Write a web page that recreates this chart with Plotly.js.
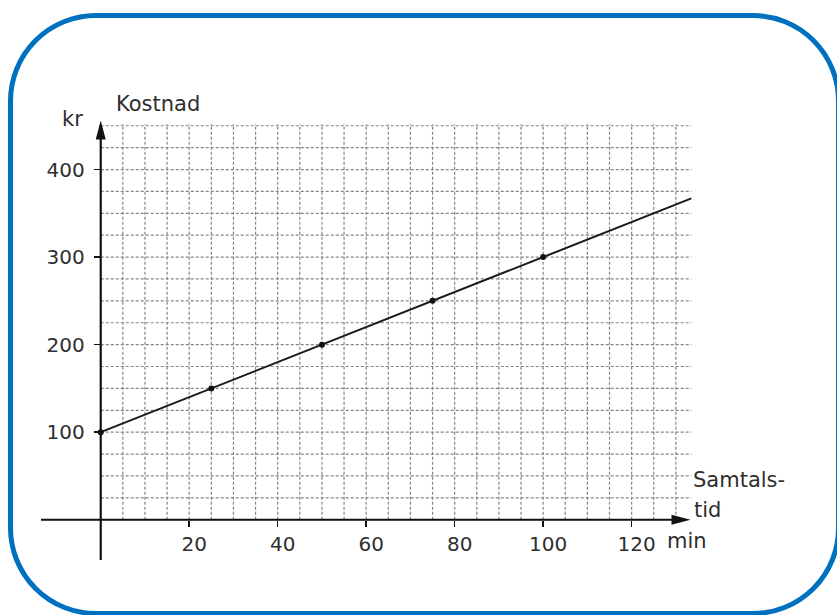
<!DOCTYPE html>
<html>
<head>
<meta charset="utf-8">
<script src="https://cdn.plot.ly/plotly-3.0.1.min.js"></script>
<style>
  html, body { margin: 0; padding: 0; background: #ffffff; }
  #wrap { position: relative; width: 837px; height: 615px; overflow: hidden; }
  #chart { position: absolute; left: 0; top: 0; width: 837px; height: 615px; }
  #frame {
    position: absolute; left: 8px; top: 13px; width: 833px; height: 603px;
    box-sizing: border-box; border: 5px solid #0070c0; border-radius: 88px;
    pointer-events: none;
  }
</style>
</head>
<body>
<div id="wrap">
  <div id="chart"></div>
  <div id="frame"></div>
</div>
<script>
// Data
const minutes = [0, 25, 50, 75, 100];          // samtalstid (min)
const costKr = [100, 150, 200, 250, 300];      // kostnad (kr)
const lineMinutes = [0, 133.5];
const lineCost = [100, 367];
const xTickVals = [20, 40, 60, 80, 100, 120];
const xTickText = ['20', '40', '60', '80', '100', '120'];
const yTickVals = [100, 200, 300, 400];
const yTickText = ['100', '200', '300', '400'];

const X_RANGE = [-13.5, 135];
const Y_RANGE = [-46, 460];
const GRID_X_STEP = 5, GRID_X_MAX = 130, GRID_X_END = 133.5;
const GRID_Y_STEP = 25, GRID_Y_MAX = 450, GRID_Y_END = 452;
const X_AXIS_END = 133.3, Y_AXIS_END = 456;

const font = 'DejaVu Sans, Verdana, sans-serif';
const textColor = '#2e2e2e';

const shapes = [];
const gridStyle = { color: '#858585', width: 1.2, dash: '3px,2px' };
for (let gx = GRID_X_STEP; gx <= GRID_X_MAX; gx += GRID_X_STEP) {
  shapes.push({ type: 'line', xref: 'x', yref: 'y', x0: gx, x1: gx, y0: 0, y1: GRID_Y_END, line: gridStyle, layer: 'below' });
}
for (let gy = GRID_Y_STEP; gy <= GRID_Y_MAX; gy += GRID_Y_STEP) {
  shapes.push({ type: 'line', xref: 'x', yref: 'y', x0: 0, x1: GRID_X_END, y0: gy, y1: gy, line: gridStyle, layer: 'below' });
}
// axes lines
shapes.push({ type: 'line', xref: 'x', yref: 'y', x0: X_RANGE[0], x1: X_AXIS_END - 1, y0: 0, y1: 0, line: { color: '#111', width: 2.2 } });
shapes.push({ type: 'line', xref: 'x', yref: 'y', x0: 0, x1: 0, y0: Y_RANGE[0], y1: Y_AXIS_END - 5, line: { color: '#111', width: 2.2 } });
// arrowheads (pixel-sized)
shapes.push({ type: 'path', xref: 'x', yref: 'y', xsizemode: 'pixel', ysizemode: 'pixel',
  xanchor: X_AXIS_END, yanchor: 0, path: 'M0,0 L-19,5 L-19,-5 Z', fillcolor: '#111', line: { width: 0 } });
shapes.push({ type: 'path', xref: 'x', yref: 'y', xsizemode: 'pixel', ysizemode: 'pixel',
  xanchor: 0, yanchor: Y_AXIS_END, path: 'M0,0 L-5,-19 L5,-19 Z', fillcolor: '#111', line: { width: 0 } });

const traces = [
  { x: lineMinutes, y: lineCost, type: 'scatter', mode: 'lines', line: { color: '#1a1a1a', width: 2 }, hoverinfo: 'skip', cliponaxis: false },
  { x: minutes, y: costKr, type: 'scatter', mode: 'markers', marker: { color: '#111', size: 6 }, hoverinfo: 'skip', cliponaxis: false }
];

const yToPaper = v => (v - Y_RANGE[0]) / (Y_RANGE[1] - Y_RANGE[0]);
const annFont = { family: font, size: 21, color: textColor };
const annotations = [
  { x: -3.6, y: yToPaper(458), xref: 'x', yref: 'paper', text: 'kr', showarrow: false, xanchor: 'right', yanchor: 'middle', font: annFont },
  { x: 2.9, y: yToPaper(475), xref: 'x', yref: 'paper', text: 'Kostnad', showarrow: false, xanchor: 'left', yanchor: 'middle', font: annFont },
  { x: 133.4, y: yToPaper(45), xref: 'x', yref: 'paper', text: 'Samtals-', showarrow: false, xanchor: 'left', yanchor: 'middle', font: annFont },
  { x: 133.6, y: yToPaper(11), xref: 'x', yref: 'paper', text: 'tid', showarrow: false, xanchor: 'left', yanchor: 'middle', font: annFont },
  { x: 132.6, y: yToPaper(-24.5), xref: 'x', yref: 'paper', text: 'min', showarrow: false, xanchor: 'center', yanchor: 'middle', font: annFont }
];

const layout = {
  width: 837, height: 615,
  margin: { l: 41, r: 837 - 41 - 657, t: 117, b: 615 - 117 - 443 },
  paper_bgcolor: 'rgba(0,0,0,0)', plot_bgcolor: 'rgba(0,0,0,0)',
  showlegend: false,
  xaxis: {
    range: X_RANGE, showgrid: false, zeroline: false, showline: false,
    anchor: 'free', position: yToPaper(0),
    tickmode: 'array', tickvals: xTickVals, ticktext: xTickText,
    ticks: 'outside', ticklen: 6, tickwidth: 1.5, tickcolor: '#111',
    ticklabelshift: 5,
    tickfont: { family: font, size: 20, color: textColor }
  },
  yaxis: {
    range: Y_RANGE, showgrid: false, zeroline: false, showline: false,
    anchor: 'free', position: (0 - X_RANGE[0]) / (X_RANGE[1] - X_RANGE[0]),
    tickmode: 'array', tickvals: yTickVals, ticktext: yTickText,
    ticks: 'outside', ticklen: 7, tickwidth: 1.5, tickcolor: '#111',
    ticklabelstandoff: 5,
    tickfont: { family: font, size: 20, color: textColor }
  },
  shapes: shapes,
  annotations: annotations
};

Plotly.newPlot('chart', traces, layout, { staticPlot: true, displayModeBar: false });
</script>
</body>
</html>
